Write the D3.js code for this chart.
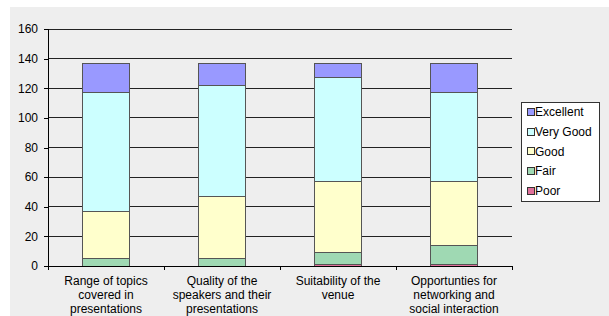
<!DOCTYPE html>
<html>
<head>
<meta charset="utf-8">
<script src="https://cdn.jsdelivr.net/npm/d3@7"></script>
<style>
  body { margin: 0; background: #fff; }
  text { font-family: "Liberation Sans", Arial, sans-serif; font-size: 12px; fill: #000; }
</style>
</head>
<body>
<div id="chart"></div>
<script>
const categories = [
  ['Range of topics', 'covered in', 'presentations'],
  ['Quality of the', 'speakers and their', 'presentations'],
  ['Suitability of the', 'venue'],
  ['Opportunties for', 'networking and', 'social interaction']
];
const seriesNames = ['Poor', 'Fair', 'Good', 'Very Good', 'Excellent'];
const poor = [0, 0, 1, 1];
const fair = [5, 5, 8, 13];
const good = [32, 42, 48, 43];
const veryGood = [80, 75, 70, 60];
const excellent = [20, 15, 10, 20];
const yTicks = [0, 20, 40, 60, 80, 100, 120, 140, 160];

const colors = {
  'Poor': '#E0709A',
  'Fair': '#9FD9B3',
  'Good': '#FFFFCC',
  'Very Good': '#CCFFFF',
  'Excellent': '#9999FF'
};

const width = 609, height = 316;
const margin = { left: 48, right: 97, top: 29, bottom: 50 };

const svg = d3.select('#chart').append('svg')
  .attr('width', width)
  .attr('height', height);

// chart background
svg.append('rect')
  .attr('x', 10).attr('y', 7)
  .attr('width', width - 10).attr('height', height - 7)
  .attr('fill', '#EEEEEE');

const x = d3.scaleBand()
  .domain(d3.range(categories.length))
  .range([margin.left, width - margin.right])
  .paddingInner(0.6)
  .paddingOuter(0.3);

const y = d3.scaleLinear()
  .domain([0, 160])
  .range([height - margin.bottom, margin.top]);

// gridlines
svg.append('g')
  .selectAll('line')
  .data(yTicks.filter(d => d > 0))
  .join('line')
  .attr('x1', margin.left).attr('x2', width - margin.right)
  .attr('y1', d => y(d)).attr('y2', d => y(d))
  .attr('stroke', '#222')
  .attr('stroke-width', 1)
  .attr('shape-rendering', 'crispEdges');

// stacked data
const rows = categories.map((c, i) => ({
  idx: i,
  'Poor': poor[i],
  'Fair': fair[i],
  'Good': good[i],
  'Very Good': veryGood[i],
  'Excellent': excellent[i]
}));
const stacked = d3.stack().keys(seriesNames)(rows);

svg.append('g')
  .selectAll('g')
  .data(stacked)
  .join('g')
  .attr('fill', d => colors[d.key])
  .selectAll('rect')
  .data(d => d.filter(s => s[1] - s[0] > 0))
  .join('rect')
  .attr('x', d => x(d.data.idx))
  .attr('width', x.bandwidth())
  .attr('y', d => y(d[1]))
  .attr('height', d => y(d[0]) - y(d[1]))
  .attr('stroke', '#555')
  .attr('stroke-width', 1)
  .attr('shape-rendering', 'crispEdges');

// y axis
const yAxis = d3.axisLeft(y).tickValues(yTicks).tickSize(4).tickPadding(6);
const yg = svg.append('g')
  .attr('transform', `translate(${margin.left},0)`)
  .call(yAxis);
yg.select('.domain').attr('stroke', '#000').attr('shape-rendering', 'crispEdges');
yg.selectAll('.tick line').attr('stroke', '#000').attr('shape-rendering', 'crispEdges');
yg.selectAll('text').style('font-family', '"Liberation Sans", Arial, sans-serif').style('font-size', '12px').attr('fill', '#000');

// x axis
const bandStep = (width - margin.right - margin.left) / categories.length;
const xg = svg.append('g');
xg.append('line')
  .attr('x1', margin.left).attr('x2', width - margin.right)
  .attr('y1', y(0)).attr('y2', y(0))
  .attr('stroke', '#000')
  .attr('shape-rendering', 'crispEdges');
xg.selectAll('line.tick')
  .data(d3.range(categories.length + 1))
  .join('line')
  .attr('class', 'tick')
  .attr('x1', i => margin.left + i * bandStep)
  .attr('x2', i => margin.left + i * bandStep)
  .attr('y1', y(0)).attr('y2', y(0) + 4)
  .attr('stroke', '#000')
  .attr('shape-rendering', 'crispEdges');

xg.selectAll('text.cat')
  .data(categories)
  .join('text')
  .attr('class', 'cat')
  .attr('text-anchor', 'middle')
  .attr('x', (d, i) => x(i) + x.bandwidth() / 2)
  .attr('y', y(0) + 19)
  .selectAll('tspan')
  .data(d => d)
  .join('tspan')
  .attr('x', function () { return d3.select(this.parentNode).attr('x'); })
  .attr('dy', (d, i) => i === 0 ? 0 : 14)
  .text(d => d);

// legend
const legend = svg.append('g').attr('transform', 'translate(521,102)');
legend.append('rect')
  .attr('width', 78).attr('height', 99)
  .attr('fill', '#fff')
  .attr('stroke', '#333')
  .attr('shape-rendering', 'crispEdges');

const legendItems = seriesNames.slice().reverse();
const item = legend.selectAll('g.item')
  .data(legendItems)
  .join('g')
  .attr('class', 'item')
  .attr('transform', (d, i) => `translate(6,${10 + i * 19.7})`);
item.append('rect')
  .attr('x', 0).attr('y', -3.5)
  .attr('width', 7).attr('height', 7)
  .attr('fill', d => colors[d])
  .attr('stroke', '#333')
  .attr('shape-rendering', 'crispEdges');
item.append('text')
  .attr('x', 8)
  .attr('dy', '0.36em')
  .text(d => d);
</script>
</body>
</html>
